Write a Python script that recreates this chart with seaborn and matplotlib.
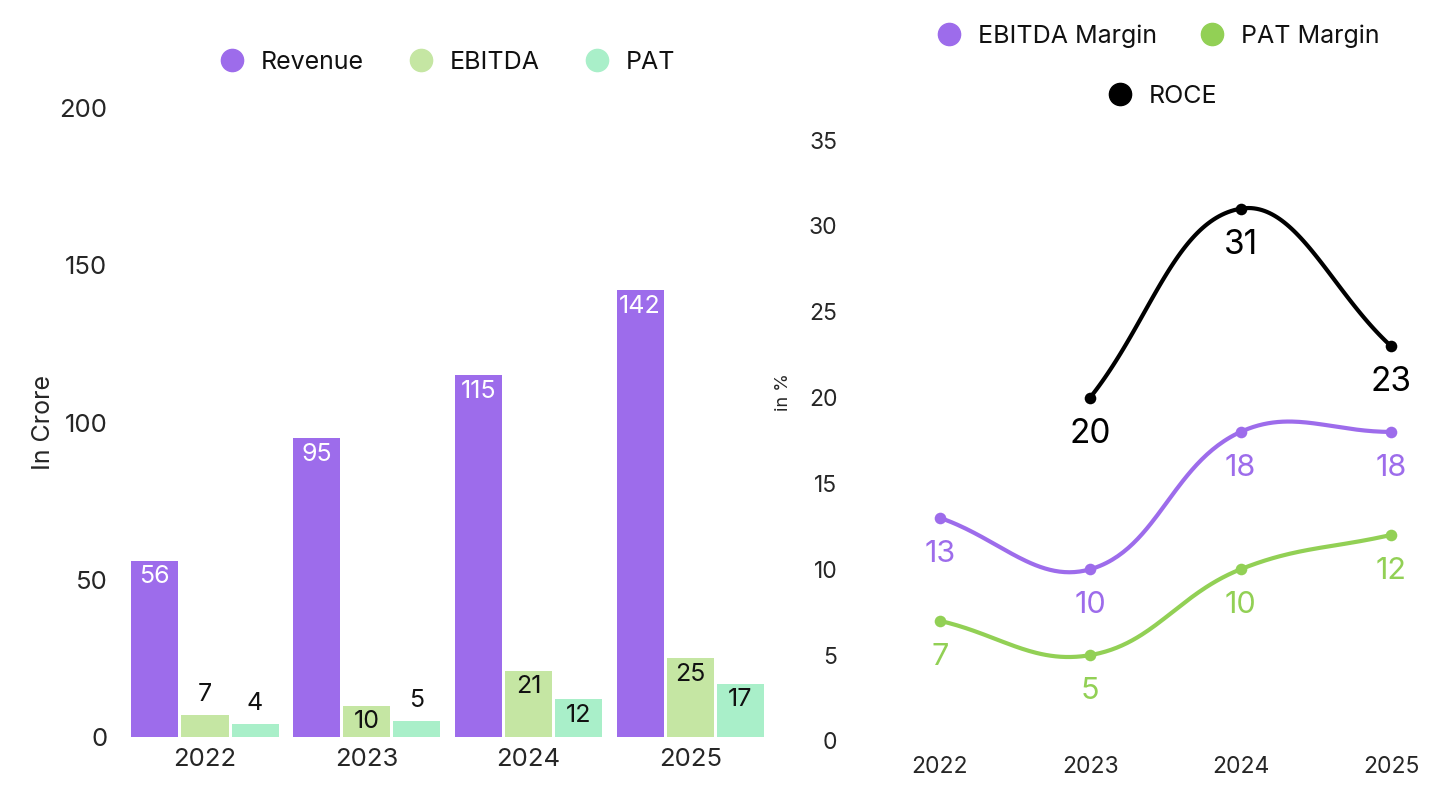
import numpy as np
import pandas as pd
import matplotlib.pyplot as plt
import seaborn as sns
from matplotlib.lines import Line2D

years = ['2022', '2023', '2024', '2025']
revenue = [56, 95, 115, 142]
ebitda = [7, 10, 21, 25]
pat = [4, 5, 12, 17]

ebitda_margin = [13, 10, 18, 18]
pat_margin = [7, 5, 10, 12]
roce = [np.nan, 20, 31, 23]

bar_colors = ['#9d6ceb', '#c5e6a3', '#a9efc9']
purple = '#9d6ceb'
green = '#92d055'

sns.set_theme(style='white')
plt.rcParams['font.family'] = ['Inter', 'DejaVu Sans']
plt.rcParams['text.color'] = '#111111'


def spline_xy(ax, xs, ys, t=0.4, n=60):
    # chart.js style cubic curve, computed in pixel space
    pts = ax.transData.transform(np.column_stack([xs, ys]))
    k = len(pts)
    cp_prev, cp_next = [], []
    for i in range(k):
        cur = pts[i]
        prv = pts[i - 1] if i > 0 else cur
        nxt = pts[i + 1] if i < k - 1 else cur
        d01 = np.hypot(*(cur - prv))
        d12 = np.hypot(*(nxt - cur))
        tot = d01 + d12
        s01 = d01 / tot if tot else 0
        s12 = d12 / tot if tot else 0
        cp_prev.append(cur - t * s01 * (nxt - prv))
        cp_next.append(cur + t * s12 * (nxt - prv))
    out = []
    u = np.linspace(0, 1, n)[:, None]
    for i in range(k - 1):
        p0, p1, p2, p3 = pts[i], cp_next[i], cp_prev[i + 1], pts[i + 1]
        seg = ((1 - u) ** 3) * p0 + 3 * ((1 - u) ** 2) * u * p1 + 3 * (1 - u) * u ** 2 * p2 + u ** 3 * p3
        out.append(seg)
    out = np.vstack(out)
    data = ax.transData.inverted().transform(out)
    return data[:, 0], data[:, 1]


fig = plt.figure(figsize=(14.56, 8.07), dpi=100, facecolor='white')
ax1 = fig.add_axes([0.0852, 0.0867, 0.4444, 0.7794])
ax2 = fig.add_axes([0.5886, 0.0818, 0.3874, 0.7447])

# ---- left: bars
df = pd.DataFrame({
    'year': years * 3,
    'metric': ['Revenue'] * 4 + ['EBITDA'] * 4 + ['PAT'] * 4,
    'value': revenue + ebitda + pat,
})
sns.barplot(data=df, x='year', y='value', hue='metric', palette=bar_colors,
            width=0.93, gap=0.06, linewidth=0, saturation=1, legend=False, ax=ax1)
ax1.set_xlim(-0.5, 3.5)
ax1.set_ylim(0, 200)
ax1.set_yticks([0, 50, 100, 150, 200])
ax1.set_xlabel(None)
ax1.set_ylabel('In Crore', fontsize=18)
ax1.yaxis.set_label_coords(-0.107, 0.5)
ax1.tick_params(axis='both', length=0, labelsize=18.5)
ax1.tick_params(axis='x', pad=8)
ax1.tick_params(axis='y', pad=12)
for s in ax1.spines.values():
    s.set_visible(False)

for ci, cont in enumerate(ax1.containers):
    for p in cont:
        h = p.get_height()
        x = p.get_x() + p.get_width() / 2
        if h >= 10:
            col = 'white' if ci == 0 else '#111111'
            ax1.annotate(f'{h:.0f}', (x, h), xytext=(0, -11.5), textcoords='offset points',
                         ha='center', va='center', fontsize=18, color=col)
        else:
            ax1.annotate(f'{h:.0f}', (x, h), xytext=(0, 15), textcoords='offset points',
                         ha='center', va='center', fontsize=18, color='#111111')

h1 = [Line2D([], [], marker='o', ls='', markersize=16, color=c) for c in bar_colors]
fig.legend(h1, ['Revenue', 'EBITDA', 'PAT'], loc='center', bbox_to_anchor=(0.303, 0.923),
           ncol=3, frameon=False, fontsize=18, handletextpad=0.15, columnspacing=1.3)

# ---- right: lines
xpos = np.arange(len(years))
ax2.set_xlim(-0.55, 3.2)
ax2.set_ylim(0, 35)
ax2.set_xticks(xpos)
ax2.set_xticklabels(years)
ax2.set_yticks(range(0, 36, 5))
ax2.tick_params(axis='both', length=0, labelsize=16.5)
ax2.tick_params(axis='x', pad=11)
ax2.tick_params(axis='y', pad=14)
for s in ax2.spines.values():
    s.set_visible(False)
ax2.set_ylabel('in %', fontsize=13)
ax2.yaxis.set_label_coords(-0.115, 0.58)

series = [(ebitda_margin, purple), (pat_margin, green), (roce, '#000000')]
for vals, col in series:
    v = np.array(vals, dtype=float)
    ok = ~np.isnan(v)
    sx, sy = spline_xy(ax2, xpos[ok], v[ok])
    ax2.plot(sx, sy, color=col, lw=3, solid_capstyle='round')
    sns.scatterplot(x=xpos[ok], y=v[ok], color=col, s=70, linewidth=0, ax=ax2, zorder=3)
    fs = 24 if col == '#000000' else 22
    for xi, yi in zip(xpos[ok], v[ok]):
        ax2.annotate(f'{yi:.0f}', (xi, yi), xytext=(0, -26), textcoords='offset points',
                     ha='center', va='center', fontsize=fs, color=col)

h2 = [Line2D([], [], marker='o', ls='', markersize=16, color=c) for c in [purple, green]]
fig.legend(h2, ['EBITDA Margin', 'PAT Margin'], loc='center', bbox_to_anchor=(0.791, 0.955),
           ncol=2, frameon=False, fontsize=18, handletextpad=0.15, columnspacing=1.2)
h3 = [Line2D([], [], marker='o', ls='', markersize=16, color='#000000')]
fig.legend(h3, ['ROCE'], loc='center', bbox_to_anchor=(0.794, 0.881),
           frameon=False, fontsize=18, handletextpad=0.15)

fig.savefig('out.png', dpi=100, facecolor='white')
